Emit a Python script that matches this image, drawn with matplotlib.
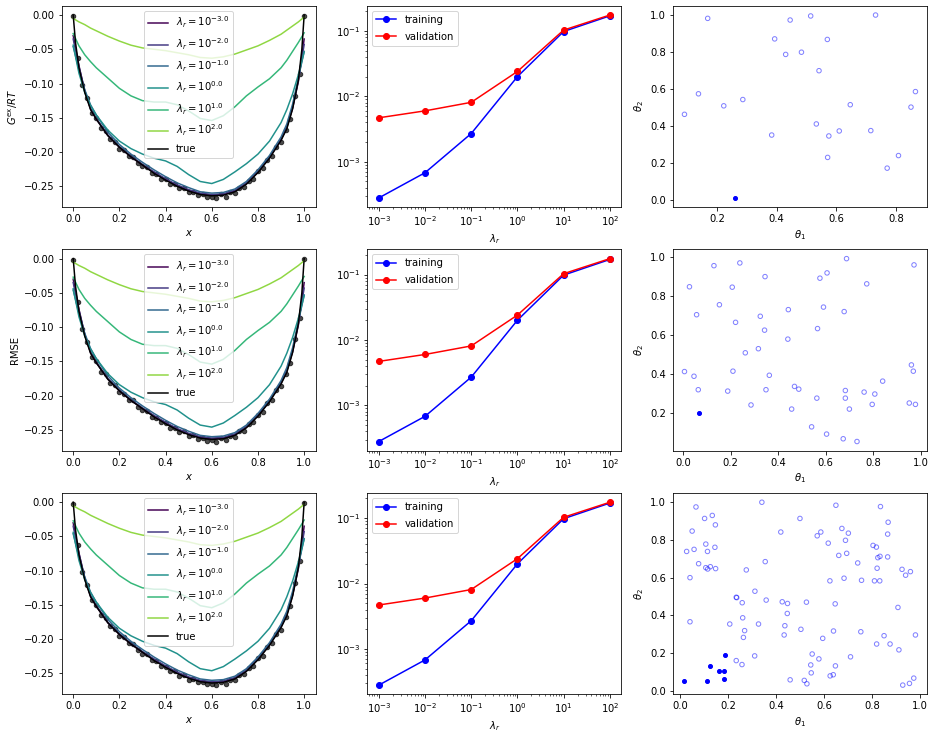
import matplotlib
matplotlib.use("Agg")
import matplotlib.pyplot as plt
import numpy as np

# fitted curves for each regularisation strength
x_fit = [0, 0.025, 0.05, 0.075, 0.1, 0.15, 0.2, 0.25, 0.3, 0.35, 0.4, 0.45, 0.5,
         0.55, 0.6, 0.65, 0.7, 0.75, 0.8, 0.85, 0.9, 0.925, 0.95, 0.975, 1.0]
lam_exps = [-3.0, -2.0, -1.0, 0.0, 1.0, 2.0]
g_lam_m3 = [-0.030, -0.074, -0.111, -0.137, -0.152, -0.176, -0.193, -0.207, -0.219, -0.230, -0.240, -0.249, -0.256,
            -0.261, -0.263, -0.262, -0.257, -0.246, -0.229, -0.208, -0.182, -0.164, -0.136, -0.097, -0.035]
g_lam_m2 = [-0.035, -0.075, -0.110, -0.136, -0.151, -0.175, -0.192, -0.206, -0.218, -0.229, -0.239, -0.248, -0.255,
            -0.260, -0.262, -0.261, -0.256, -0.245, -0.228, -0.207, -0.181, -0.163, -0.134, -0.094, -0.043]
g_lam_m1 = [-0.046, -0.080, -0.109, -0.131, -0.146, -0.171, -0.189, -0.203, -0.215, -0.226, -0.236, -0.245, -0.252,
            -0.258, -0.260, -0.259, -0.254, -0.243, -0.226, -0.205, -0.178, -0.159, -0.130, -0.092, -0.053]
g_lam_0 = [-0.044, -0.085, -0.113, -0.132, -0.146, -0.168, -0.184, -0.195, -0.203, -0.209, -0.213, -0.221, -0.233,
           -0.243, -0.246, -0.240, -0.229, -0.217, -0.203, -0.184, -0.157, -0.138, -0.115, -0.087, -0.054]
g_lam_1 = [-0.027, -0.045, -0.058, -0.068, -0.077, -0.092, -0.107, -0.118, -0.125, -0.127, -0.127, -0.131, -0.140,
           -0.151, -0.154, -0.147, -0.134, -0.118, -0.105, -0.093, -0.077, -0.066, -0.053, -0.040, -0.026]
g_lam_2 = [-0.005, -0.010, -0.014, -0.019, -0.023, -0.031, -0.038, -0.044, -0.048, -0.050, -0.052, -0.055, -0.058,
           -0.062, -0.063, -0.061, -0.057, -0.051, -0.045, -0.037, -0.028, -0.022, -0.016, -0.010, -0.003]
g_fits = [g_lam_m3, g_lam_m2, g_lam_m1, g_lam_0, g_lam_1, g_lam_2]

# true curve
x_true = [0, 0.01, 0.025, 0.05, 0.075, 0.1, 0.15, 0.2, 0.25, 0.3, 0.35, 0.4, 0.45, 0.5,
          0.55, 0.6, 0.65, 0.7, 0.75, 0.8, 0.85, 0.9, 0.925, 0.95, 0.975, 0.99, 1.0]
g_true = [0, -0.040, -0.077, -0.113, -0.138, -0.152, -0.176, -0.193, -0.207, -0.219, -0.231, -0.241, -0.250, -0.257,
          -0.262, -0.264, -0.263, -0.258, -0.247, -0.230, -0.209, -0.183, -0.166, -0.137, -0.095, -0.050, 0]

# noisy data points
x_data = [0.00, 0.02, 0.04, 0.06, 0.08, 0.10, 0.12, 0.14, 0.16, 0.18, 0.20, 0.22, 0.24, 0.26, 0.28,
          0.30, 0.32, 0.34, 0.36, 0.38, 0.40, 0.42, 0.44, 0.46, 0.48, 0.50, 0.52, 0.54, 0.56, 0.58,
          0.60, 0.62, 0.64, 0.66, 0.68, 0.70, 0.72, 0.74, 0.76, 0.78, 0.80, 0.82, 0.84, 0.86, 0.88,
          0.90, 0.92, 0.94, 0.96, 0.98, 1.00]
g_data = [-0.002, -0.063, -0.102, -0.121, -0.143, -0.150, -0.165, -0.169, -0.181, -0.185, -0.195, -0.197, -0.206,
          -0.207, -0.216, -0.221, -0.222, -0.231, -0.232, -0.239, -0.240, -0.247, -0.247, -0.253, -0.252, -0.259,
          -0.258, -0.263, -0.262, -0.266, -0.265, -0.267, -0.262, -0.265, -0.259, -0.260, -0.252, -0.251, -0.242,
          -0.239, -0.228, -0.224, -0.211, -0.206, -0.192, -0.186, -0.168, -0.152, -0.118, -0.086, -0.001]

# errors vs regularisation
lam_vals = [1e-3, 1e-2, 1e-1, 1e0, 1e1, 1e2]
err_train = [2.8e-4, 6.8e-4, 2.7e-3, 2.0e-2, 9.8e-2, 0.170]
err_valid = [4.7e-3, 6.0e-3, 8.1e-3, 2.4e-2, 1.03e-1, 0.175]

# parameter samples (open) and chosen points (filled)
th1_a = [0.090, 0.137, 0.168, 0.222, 0.286, 0.383, 0.393, 0.430, 0.445, 0.483, 0.514, 0.533, 0.542,
         0.570, 0.575, 0.571, 0.610, 0.647, 0.716, 0.732, 0.771, 0.809, 0.851, 0.866]
th2_a = [0.461, 0.572, 0.980, 0.507, 0.541, 0.349, 0.869, 0.785, 0.971, 0.797, 0.993, 0.409, 0.697,
         0.866, 0.344, 0.228, 0.371, 0.513, 0.373, 0.998, 0.170, 0.238, 0.500, 0.584]
th1_a_sel = [0.259]
th2_a_sel = [0.009]

th1_b = [0.006, 0.027, 0.046, 0.057, 0.064, 0.130, 0.153, 0.188, 0.207, 0.210, 0.221, 0.239, 0.262,
         0.286, 0.317, 0.325, 0.343, 0.345, 0.349, 0.363, 0.441, 0.443, 0.457, 0.469, 0.487, 0.541,
         0.563, 0.566, 0.576, 0.591, 0.604, 0.606, 0.674, 0.678, 0.683, 0.683, 0.688, 0.700, 0.732,
         0.762, 0.773, 0.796, 0.807, 0.840, 0.952, 0.961, 0.969, 0.972, 0.978]
th2_b = [0.412, 0.846, 0.388, 0.703, 0.319, 0.954, 0.754, 0.312, 0.844, 0.414, 0.664, 0.968, 0.508,
         0.241, 0.529, 0.695, 0.624, 0.898, 0.319, 0.393, 0.578, 0.729, 0.220, 0.336, 0.322, 0.129,
         0.276, 0.632, 0.890, 0.742, 0.092, 0.917, 0.068, 0.719, 0.315, 0.276, 0.990, 0.220, 0.054,
         0.307, 0.861, 0.244, 0.297, 0.363, 0.251, 0.446, 0.414, 0.958, 0.244]
th1_b_sel = [0.069]
th2_b_sel = [0.202]

th1_c = [0.065, 0.101, 0.133, 0.146, 0.049, 0.026, 0.057, 0.106, 0.113, 0.144, 0.076, 0.106, 0.114,
         0.125, 0.147, 0.040, 0.040, 0.233, 0.235, 0.258, 0.260, 0.268, 0.263, 0.206, 0.233, 0.257,
         0.310, 0.326, 0.311, 0.275, 0.340, 0.354, 0.358, 0.419, 0.425, 0.447, 0.446, 0.436, 0.433,
         0.458, 0.499, 0.503, 0.526, 0.517, 0.528, 0.550, 0.544, 0.546, 0.578, 0.571, 0.586, 0.594,
         0.617, 0.624, 0.625, 0.638, 0.639, 0.646, 0.647, 0.649, 0.661, 0.674, 0.683, 0.689, 0.694,
         0.701, 0.710, 0.740, 0.756, 0.753, 0.804, 0.818, 0.821, 0.810, 0.824, 0.833, 0.832, 0.835,
         0.819, 0.850, 0.865, 0.865, 0.867, 0.875, 0.912, 0.908, 0.925, 0.940, 0.960, 0.981, 0.928,
         0.956, 0.974]
th2_c = [0.975, 0.914, 0.930, 0.880, 0.847, 0.739, 0.750, 0.778, 0.739, 0.761, 0.674, 0.653, 0.646,
         0.658, 0.648, 0.600, 0.366, 0.496, 0.494, 0.467, 0.387, 0.319, 0.283, 0.354, 0.160, 0.139,
         0.185, 0.354, 0.528, 0.641, 1.000, 0.685, 0.481, 0.842, 0.472, 0.463, 0.410, 0.345, 0.296,
         0.058, 0.914, 0.326, 0.470, 0.055, 0.037, 0.195, 0.137, 0.095, 0.169, 0.822, 0.842, 0.278,
         0.783, 0.583, 0.079, 0.085, 0.317, 0.461, 0.132, 0.984, 0.718, 0.861, 0.597, 0.798, 0.729,
         0.836, 0.180, 0.678, 0.586, 0.313, 0.771, 0.762, 0.650, 0.583, 0.706, 0.713, 0.583, 0.977,
         0.248, 0.292, 0.710, 0.831, 0.894, 0.248, 0.217, 0.442, 0.644, 0.613, 0.632, 0.296, 0.030,
         0.039, 0.067]
th1_c_sel = [0.017, 0.111, 0.125, 0.161, 0.183, 0.185, 0.183]
th2_c_sel = [0.053, 0.053, 0.132, 0.107, 0.107, 0.192, 0.060]

samples = [(th1_a, th2_a, th1_a_sel, th2_a_sel),
           (th1_b, th2_b, th1_b_sel, th2_b_sel),
           (th1_c, th2_c, th1_c_sel, th2_c_sel)]
left_ylabels = [r"$G^{\mathrm{ex}}/RT$", "RMSE", ""]

colors = plt.cm.viridis(np.linspace(0, 1, 7))[:6]

# inline-style 72 dpi canvas
fig, axes = plt.subplots(3, 3, figsize=(934 / 72, 737 / 72), dpi=72)
fig.subplots_adjust(left=0.066, right=0.9925, top=0.992, bottom=0.058, wspace=0.203, hspace=0.211)

for row in range(3):
    ax = axes[row, 0]
    ax.plot(x_data, g_data, 'o', color='k', alpha=0.7, ms=4.5)
    for g, e, c in zip(g_fits, lam_exps, colors):
        ax.plot(x_fit, g, color=c, label=r"$\lambda_r = 10^{%.1f}$" % e)
    ax.plot(x_true, g_true, color='k', label="true")
    ax.set_xlabel("$x$")
    if left_ylabels[row]:
        ax.set_ylabel(left_ylabels[row])
    ax.legend(loc="upper center", labelspacing=0.6)

    ax = axes[row, 1]
    ax.loglog(lam_vals, err_train, 'o-', color='b', label="training")
    ax.loglog(lam_vals, err_valid, 'o-', color='r', label="validation")
    ax.set_xlabel(r"$\lambda_r$")
    ax.legend(loc="upper left", labelspacing=0.7)

    ax = axes[row, 2]
    t1, t2, s1, s2 = samples[row]
    ax.scatter(t1, t2, s=20, facecolors='none', edgecolors='b', alpha=0.5)
    ax.scatter(s1, s2, s=16, color='b')
    ax.set_xlabel(r"$\theta_1$")
    ax.set_ylabel(r"$\theta_2$")

fig.savefig("out.png", dpi=72)
